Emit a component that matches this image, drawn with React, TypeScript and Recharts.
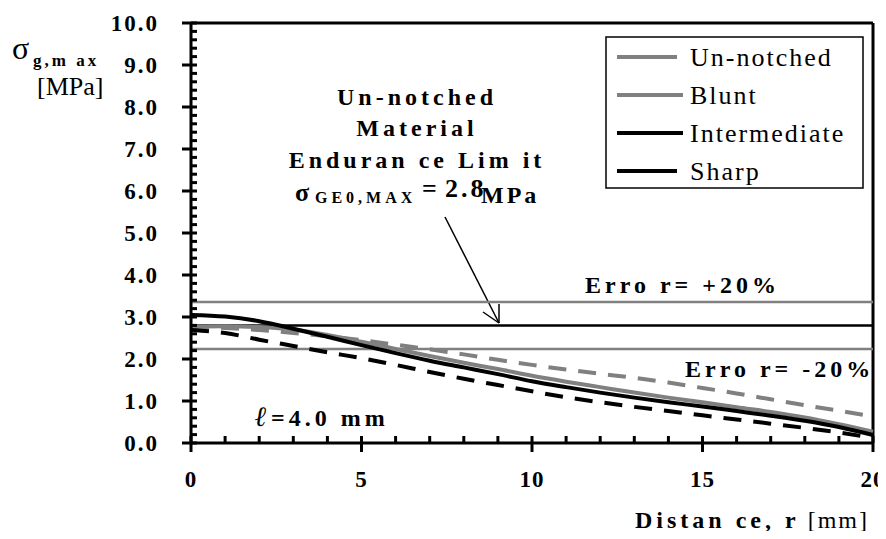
import React from 'react';
import { LineChart, Line, XAxis, YAxis, ReferenceLine } from 'recharts';

// distance r [mm]
const X_VALUES = [0, 1, 2, 3, 4, 5, 6, 7, 8, 9, 10, 11, 12, 13, 14, 15, 16, 17, 18, 19, 20];

// sigma max [MPa]
const UNNOTCHED = [2.77, 2.78, 2.76, 2.70, 2.57, 2.41, 2.24, 2.07, 1.91, 1.76, 1.60, 1.46, 1.33, 1.20, 1.08, 0.97, 0.85, 0.74, 0.61, 0.45, 0.27];
const BLUNT = [2.77, 2.74, 2.69, 2.62, 2.54, 2.45, 2.34, 2.23, 2.11, 1.98, 1.86, 1.75, 1.65, 1.55, 1.44, 1.31, 1.18, 1.04, 0.90, 0.77, 0.63];
const INTERMEDIATE = [3.05, 3.01, 2.90, 2.72, 2.53, 2.33, 2.14, 1.96, 1.80, 1.64, 1.47, 1.33, 1.20, 1.08, 0.97, 0.87, 0.76, 0.65, 0.53, 0.38, 0.19];
const SHARP = [2.69, 2.62, 2.46, 2.31, 2.16, 2.02, 1.86, 1.69, 1.53, 1.38, 1.23, 1.09, 0.97, 0.86, 0.76, 0.66, 0.56, 0.46, 0.36, 0.25, 0.12];

const LIMIT = 2.8;
const LIMIT_UP = 3.36;
const LIMIT_DOWN = 2.24;

const X_TICKS = [0, 5, 10, 15, 20];
const X_MINOR = [0, 1, 2, 3, 4, 5, 6, 7, 8, 9, 10, 11, 12, 13, 14, 15, 16, 17, 18, 19, 20];
const Y_TICKS = [0, 1, 2, 3, 4, 5, 6, 7, 8, 9, 10];
const Y_MINOR = [
  0, 0.2, 0.4, 0.6, 0.8, 1, 1.2, 1.4, 1.6, 1.8, 2, 2.2, 2.4, 2.6, 2.8, 3, 3.2, 3.4, 3.6, 3.8,
  4, 4.2, 4.4, 4.6, 4.8, 5, 5.2, 5.4, 5.6, 5.8, 6, 6.2, 6.4, 6.6, 6.8, 7, 7.2, 7.4, 7.6, 7.8,
  8, 8.2, 8.4, 8.6, 8.8, 9, 9.2, 9.4, 9.6, 9.8, 10,
];

const LEGEND = [
  { name: 'Un-notched', color: '#808080', len: 60 },
  { name: 'Blunt', color: '#808080', len: 66 },
  { name: 'Intermediate', color: '#000000', len: 66 },
  { name: 'Sharp', color: '#000000', len: 60 },
];

const data = X_VALUES.map((x, i) => ({
  x,
  unnotched: UNNOTCHED[i],
  blunt: BLUNT[i],
  intermediate: INTERMEDIATE[i],
  sharp: SHARP[i],
}));

const FONT = 'Liberation Serif, Times New Roman, serif';
const GRAY = '#808080';
const W = 878;
const H = 531;

// tick marks drawn with the labels: majors cross the axis, minors sit inside
const YTick = ({ x, y, payload }: any) => {
  const major = Y_TICKS.includes(payload.value);
  return (
    <g>
      <line x1={major ? x - 9 : x} y1={y} x2={x + 6} y2={y} stroke="#000" strokeWidth={3} />
      {major && (
        <text x={x - 32} y={y} dy={8} textAnchor="end" fontFamily={FONT} fontWeight="bold" fontSize={23} letterSpacing={2} fill="#000">
          {Number(payload.value).toFixed(1)}
        </text>
      )}
    </g>
  );
};

const XTick = ({ x, y, payload }: any) => {
  const major = X_TICKS.includes(payload.value);
  return (
    <g>
      <line x1={x} y1={y - 7} x2={x} y2={major ? y + 9 : y} stroke="#000" strokeWidth={3} />
      {major && (
        <text x={x} y={y} dy={44} textAnchor="middle" fontFamily={FONT} fontWeight="bold" fontSize={23} letterSpacing={1} fill="#000">
          {payload.value}
        </text>
      )}
    </g>
  );
};

const boldText = { fontFamily: FONT, fontWeight: 'bold' as const, fill: '#000' };

const Notes = () => (
  <svg width={W} height={H} style={{ position: 'absolute', left: 0, top: 0 }}>
    {/* y axis title */}
    <text x={4} y={51} fontFamily={FONT} fontSize={32} fill="#000">σ</text>
    <text x={25} y={58} {...boldText} fontSize={17} letterSpacing={3}>g,m ax</text>
    <text x={29} y={87} fontFamily={FONT} fontSize={26} fill="#000">[MPa]</text>

    {/* x axis title */}
    <text x={627} y={520} fontFamily={FONT} fontSize={24} fill="#000">
      <tspan fontWeight="bold" letterSpacing={4}>Distan ce, r</tspan>
      <tspan letterSpacing={2}> [mm]</tspan>
    </text>

    {/* endurance limit note */}
    <g textAnchor="middle" {...boldText} fontSize={24} letterSpacing={4}>
      <text x={409} y={97}>Un-notched</text>
      <text x={409} y={128}>Material</text>
      <text x={409} y={160}>Enduran ce Lim it</text>
    </g>
    <g {...boldText}>
      <text x={287} y={193} fontSize={26}>σ</text>
      <text x={307} y={195} fontSize={16} letterSpacing={4}>GE0,MAX</text>
      <text x={414} y={189} fontSize={26}>=</text>
      <text x={437} y={189} fontSize={26} letterSpacing={3}>2.8</text>
      <text x={473} y={195} fontSize={24} letterSpacing={3}>MPa</text>
    </g>
    <line x1={437} y1={209} x2={491} y2={315} stroke="#000" strokeWidth={1.5} />
    <line x1={491} y1={315} x2={475} y2={304} stroke="#000" strokeWidth={1.5} />
    <line x1={491} y1={315} x2={491} y2={296} stroke="#000" strokeWidth={1.5} />

    <text x={577} y={285} {...boldText} fontSize={24} letterSpacing={4}>Erro r= +20%</text>
    <text x={677} y={369} {...boldText} fontSize={24} letterSpacing={4}>Erro r= -20%</text>
    <text x={247} y={418} {...boldText} fontSize={24} letterSpacing={4}>
      <tspan fontStyle="italic" fontSize={28}>ℓ</tspan>=4.0 mm
    </text>

    {/* legend */}
    <rect x={598} y={29} width={257} height={151} fill="#fff" stroke="#000" strokeWidth={1.5} />
    {LEGEND.map((item, i) => {
      const cy = 49 + i * 38;
      return (
        <g key={item.name}>
          <line x1={609} y1={cy} x2={609 + item.len} y2={cy} stroke={item.color} strokeWidth={4} />
          <text x={682} y={cy + 9} fontFamily={FONT} fontSize={26} letterSpacing={2} fill="#000">{item.name}</text>
        </g>
      );
    })}
  </svg>
);

export default function App() {
  return (
    <div style={{ position: 'relative', width: W, height: H, marginBottom: -8 }}>
      <Notes />
      <div style={{ position: 'absolute', left: 0, top: 0 }}>
        <LineChart width={W} height={H} data={data} margin={{ top: 15, right: 13, bottom: 56, left: 123 }}>
          <XAxis
            dataKey="x"
            type="number"
            domain={[0, 20]}
            ticks={X_MINOR}
            interval={0}
            height={40}
            tickSize={0}
            tickMargin={0}
            tick={<XTick />}
            tickLine={false}
            axisLine={{ stroke: '#000', strokeWidth: 3 }}
          />
          <YAxis
            type="number"
            domain={[0, 10]}
            ticks={Y_MINOR}
            interval={0}
            width={60}
            tickSize={0}
            tickMargin={0}
            tick={<YTick />}
            tickLine={false}
            axisLine={{ stroke: '#000', strokeWidth: 3 }}
          />
          <ReferenceLine y={10} stroke="#000" strokeWidth={3} />
          <ReferenceLine x={20} stroke="#000" strokeWidth={3} />
          <ReferenceLine y={LIMIT_UP} stroke={GRAY} strokeWidth={2.5} />
          <ReferenceLine y={LIMIT} stroke="#000" strokeWidth={2.5} />
          <ReferenceLine y={LIMIT_DOWN} stroke={GRAY} strokeWidth={2.5} />
          <Line type="monotone" dataKey="blunt" stroke={GRAY} strokeWidth={4} strokeDasharray="18 12" dot={false} isAnimationActive={false} />
          <Line type="monotone" dataKey="unnotched" stroke={GRAY} strokeWidth={4} dot={false} isAnimationActive={false} />
          <Line type="monotone" dataKey="intermediate" stroke="#000" strokeWidth={4} dot={false} isAnimationActive={false} />
          <Line type="monotone" dataKey="sharp" stroke="#000" strokeWidth={4} strokeDasharray="18 12" dot={false} isAnimationActive={false} />
        </LineChart>
      </div>
    </div>
  );
}
